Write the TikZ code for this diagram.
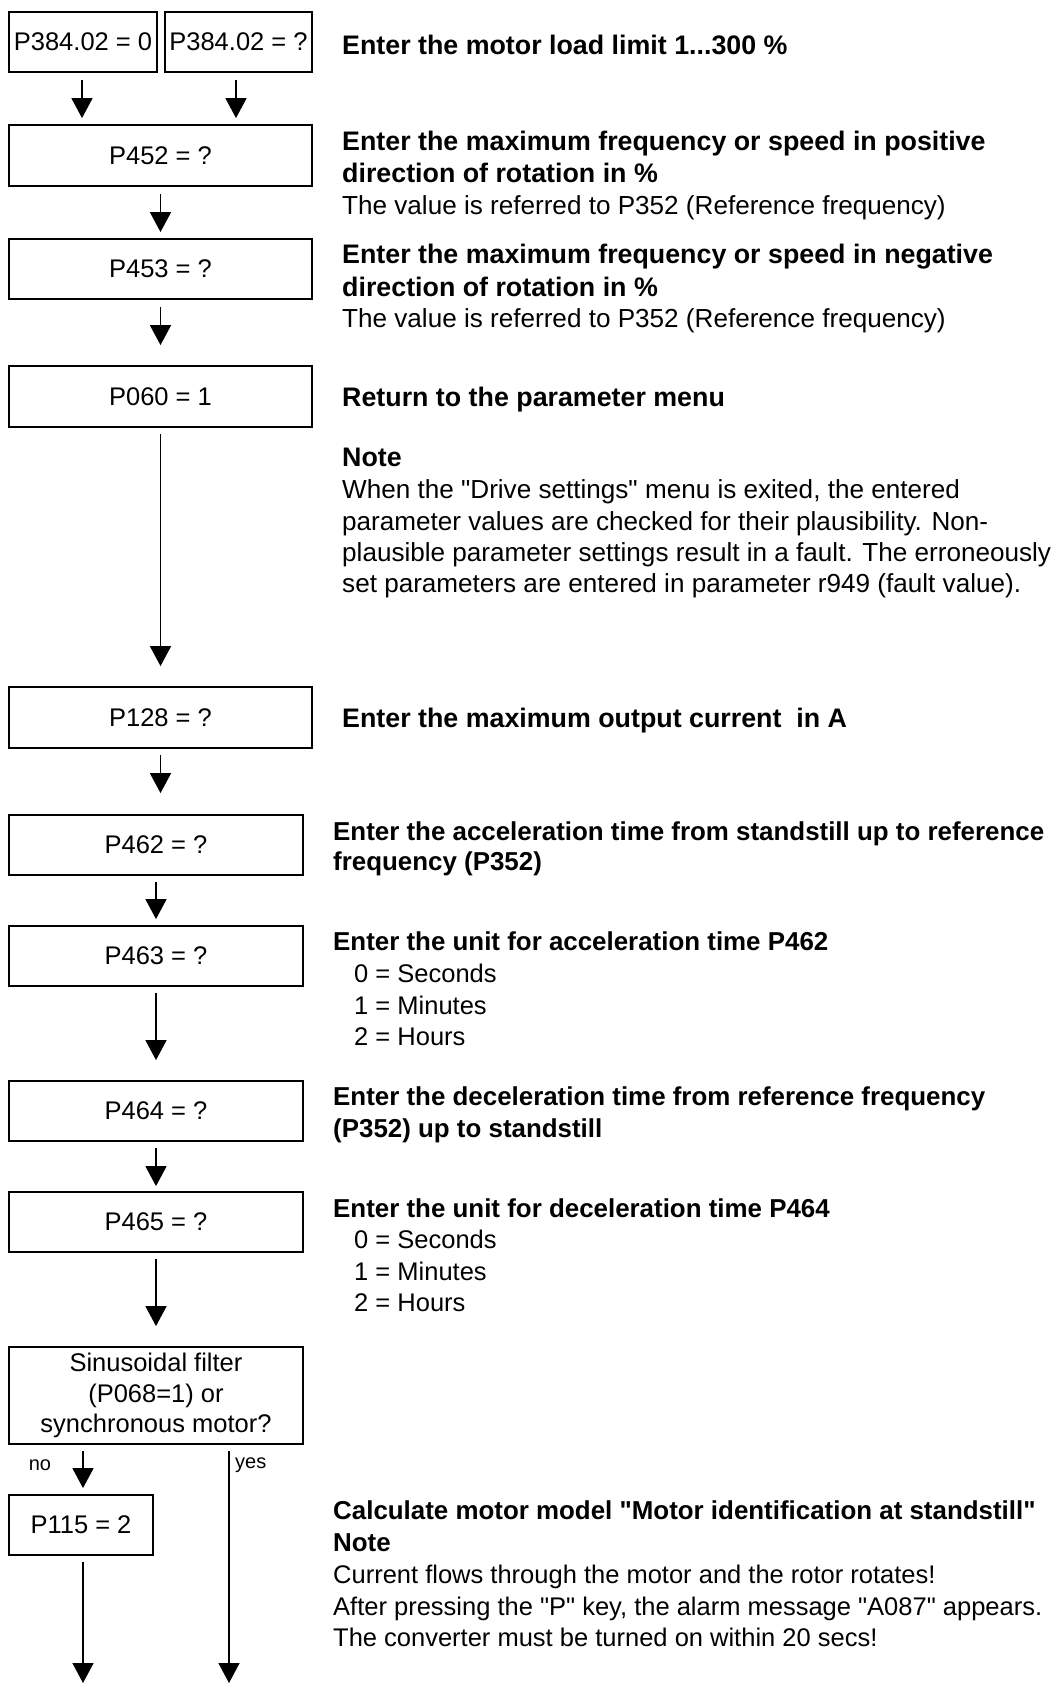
\documentclass[tikz,border=0pt]{standalone}
\usepackage{fontspec}
\setmainfont{Liberation Sans}[Ligatures=TeXOff]
\usetikzlibrary{arrows.meta}
\newcommand{\dq}{"}
\tikzset{
  box/.style={draw, line width=1.8pt, inner sep=0pt, align=center,
    font=\fontsize{25.5pt}{30.5pt}\selectfont},
  arr/.style={line width=1.6pt, -{Triangle[length=20pt,width=21pt]}},
  tx/.style={anchor=base west, inner sep=0pt, font=\fontsize{25.5pt}{31.7pt}\selectfont},
  tb/.style={tx, font=\fontsize{25.9pt}{31.7pt}\selectfont\bfseries},
  txu/.style={tx, font=\fontsize{26.1pt}{31.7pt}\selectfont},
  tbu/.style={tx, font=\fontsize{26.8pt}{31.7pt}\selectfont\bfseries},
  lbl/.style={inner sep=0pt, font=\fontsize{20pt}{24pt}\selectfont}
}
\begin{document}
\begin{tikzpicture}[x=1pt,y=-1pt]
\useasboundingbox (0,0) rectangle (1052,1683);
% boxes
\node[box, minimum width=148pt, minimum height=60pt] (b1) at (83,42) {P384.02 = 0};
\node[box, minimum width=147pt, minimum height=60pt] (b2) at (238.5,42) {P384.02 = ?};
\node[box, minimum width=303pt, minimum height=61pt] (b3) at (160.5,155.5) {P452 = ?};
\node[box, minimum width=303pt, minimum height=60pt] (b4) at (160.5,269) {P453 = ?};
\node[box, minimum width=303pt, minimum height=61pt] (b5) at (160.5,396.5) {P060 = 1};
\node[box, minimum width=303pt, minimum height=61pt] (b6) at (160.5,717.5) {P128 = ?};
\node[box, minimum width=294pt, minimum height=60pt] (b7) at (156,845) {P462 = ?};
\node[box, minimum width=294pt, minimum height=60pt] (b8) at (156,956) {P463 = ?};
\node[box, minimum width=294pt, minimum height=60pt] (b9) at (156,1111) {P464 = ?};
\node[box, minimum width=294pt, minimum height=60pt] (b10) at (156,1222) {P465 = ?};
\node[box, minimum width=294pt, minimum height=97pt] (b11) at (156,1395.5) {Sinusoidal filter\\(P068=1) or\\synchronous motor?};
\node[box, minimum width=144pt, minimum height=60pt] (b12) at (81,1525) {P115 = 2};
\coordinate (yesend) at (229,1683);
\coordinate (noend) at (83,1683);
% arrows
\draw[arr, shorten <=7pt, shorten >=6pt] ([xshift=-1pt]b1.south) -- ([xshift=-1pt]b1.south |- b3.north);
\draw[arr, shorten <=7pt, shorten >=6pt] ([xshift=-2.5pt]b2.south) -- ([xshift=-2.5pt]b2.south |- b3.north);
\draw[arr, shorten <=7pt, shorten >=6pt] (b3.south) -- (b4.north);
\draw[arr, shorten <=7pt, shorten >=20pt] (b4.south) -- (b5.north);
\draw[arr, shorten <=6pt, shorten >=20pt] (b5.south) -- (b6.north);
\draw[arr, shorten <=6pt, shorten >=21pt] (b6.south) -- (b6.south |- b7.north);
\draw[arr, shorten <=6pt, shorten >=6pt] (b7.south) -- (b8.north);
\draw[arr, shorten <=6pt, shorten >=20pt] (b8.south) -- (b9.north);
\draw[arr, shorten <=6pt, shorten >=5pt] (b9.south) -- (b10.north);
\draw[arr, shorten <=6pt, shorten >=20pt] (b10.south) -- (b11.north);
\draw[arr, shorten <=6pt, shorten >=6pt] (noend |- b11.south) -- (noend |- b12.north);
\draw[arr, shorten <=6pt] (yesend |- b11.south) -- (yesend);
\draw[arr, shorten <=6pt] (noend |- b12.south) -- (noend);
\node[lbl] (lno) at (40,1465) {no};
\node[lbl, anchor=west] (lyes) at (235,1465) {yes};
% right-hand texts
\node[tbu] (a1) at (342,54.5) {Enter the motor load limit 1...300 \%};
\node[tbu] (b1t) at (342,150) {Enter the maximum frequency or speed in positive};
\node[tbu] (b2t) at (342,182.2) {direction of rotation in \%};
\node[txu] (b3t) at (342,214.4) {The value is referred to P352 (Reference frequency)};
\node[tbu] (c1t) at (342,263.8) {Enter the maximum frequency or speed in negative};
\node[tbu] (c2t) at (342,296) {direction of rotation in \%};
\node[txu] (c3t) at (342,327.2) {The value is referred to P352 (Reference frequency)};
\node[tbu] (d1t) at (342,406.6) {Return to the parameter menu};
\node[tbu] (e1t) at (342,466.7) {Note};
\node[txu] (e2t) at (342,498.9) {When the \dq Drive settings\dq{} menu is exited, the entered};
\node[txu] (e3t) at (342,530) {parameter values are checked for their plausibility. Non-};
\node[txu] (e4t) at (342,561.2) {plausible parameter settings result in a fault. The erroneously};
\node[txu] (e5t) at (342,592.3) {set parameters are entered in parameter r949 (fault value).};
\node[tbu] (f1t) at (342,727.6) {Enter the maximum output current~ in A};
\node[tb] (g1t) at (333,840.3) {Enter the acceleration time from standstill up to reference};
\node[tb] (g2t) at (333,870.3) {frequency (P352)};
\node[tb] (h1t) at (333,950.9) {Enter the unit for acceleration time P462};
\node[tx] (h2t) at (354,982) {0 = Seconds};
\node[tx] (h3t) at (354,1014.2) {1 = Minutes};
\node[tx] (h4t) at (354,1045.3) {2 = Hours};
\node[tb] (i1t) at (333,1105.4) {Enter the deceleration time from reference frequency};
\node[tb] (i2t) at (333,1137.6) {(P352) up to standstill};
\node[tb] (j1t) at (333,1217.1) {Enter the unit for deceleration time P464};
\node[tx] (j2t) at (354,1248.2) {0 = Seconds};
\node[tx] (j3t) at (354,1280.4) {1 = Minutes};
\node[tx] (j4t) at (354,1311.5) {2 = Hours};
\node[tb] (k1t) at (333,1519.9) {Calculate motor model \dq Motor identification at standstill\dq};
\node[tb] (k2t) at (333,1551) {Note};
\node[tx] (k3t) at (333,1583.2) {Current flows through the motor and the rotor rotates!};
\node[tx] (k4t) at (333,1615.4) {After pressing the \dq P\dq{} key, the alarm message \dq A087\dq{} appears.};
\node[tx] (k5t) at (333,1646.5) {The converter must be turned on within 20 secs!};
\end{tikzpicture}
\end{document}
